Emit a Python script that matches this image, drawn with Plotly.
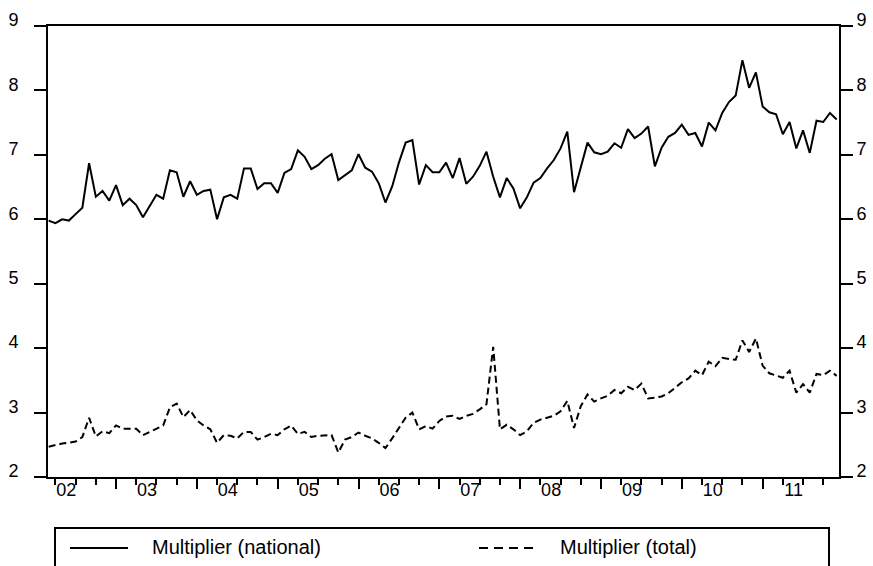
import plotly.graph_objects as go

# ---------------- data (monthly, first obs = index 0) ----------------
national = [
    5.98, 5.94, 6.00, 5.98, 6.08, 6.18, 6.87, 6.35, 6.44, 6.29,
    6.53, 6.22, 6.32, 6.22, 6.03, 6.20, 6.38, 6.32, 6.76, 6.73,
    6.35, 6.59, 6.38, 6.44, 6.46, 6.00, 6.34, 6.38, 6.32, 6.79,
    6.79, 6.47, 6.56, 6.56, 6.41, 6.72, 6.78, 7.07,
    6.97, 6.78, 6.84, 6.94, 7.01, 6.61, 6.68, 6.76, 7.01, 6.80,
    6.74, 6.56, 6.26, 6.51, 6.88, 7.19, 7.23, 6.54, 6.84, 6.73,
    6.73, 6.88, 6.64, 6.95, 6.55, 6.66, 6.83, 7.05, 6.66, 6.34,
    6.64, 6.48, 6.17, 6.34, 6.57, 6.64, 6.79, 6.92, 7.10, 7.36,
    6.42, 6.82, 7.19,
    7.04, 7.01, 7.05, 7.18, 7.11, 7.40, 7.26, 7.33, 7.44, 6.82,
    7.11, 7.28, 7.34, 7.47, 7.31, 7.34, 7.13, 7.50, 7.38, 7.65,
    7.82, 7.92, 8.47, 8.04, 8.28, 7.75, 7.66, 7.63, 7.32, 7.51,
    7.10, 7.38, 7.03, 7.53, 7.51, 7.65, 7.55,
]
total = [
    2.47, 2.50, 2.52, 2.53, 2.55, 2.62, 2.92, 2.63, 2.71, 2.68,
    2.80, 2.75, 2.75, 2.75, 2.65, 2.70, 2.76, 2.80, 3.08, 3.14,
    2.93, 3.04, 2.88, 2.80, 2.74, 2.53, 2.65, 2.64, 2.60, 2.70,
    2.70, 2.58, 2.62, 2.67, 2.65, 2.74, 2.80, 2.67,
    2.70, 2.62, 2.64, 2.64, 2.65, 2.38, 2.58, 2.62, 2.69, 2.64,
    2.60, 2.53, 2.45, 2.60, 2.76, 2.92, 3.00, 2.74, 2.79, 2.75,
    2.87, 2.94, 2.95, 2.90, 2.95, 2.98, 3.05, 3.13, 4.02, 2.74,
    2.81, 2.74, 2.65, 2.71, 2.84, 2.89, 2.92, 2.95, 3.02, 3.18,
    2.76, 3.10, 3.28,
    3.17, 3.22, 3.26, 3.35, 3.30, 3.40, 3.35, 3.45, 3.22, 3.23,
    3.25, 3.30, 3.38, 3.47, 3.53, 3.65, 3.58, 3.79, 3.72, 3.85,
    3.83, 3.82, 4.12, 3.94, 4.15, 3.73, 3.61, 3.58, 3.54, 3.65,
    3.31, 3.44, 3.31, 3.60, 3.58, 3.65, 3.57,
]
year_labels = ["02", "03", "04", "05", "06", "07", "08", "09", "10", "11"]
series_names = ["Multiplier (national)", "Multiplier (total)"]
y_ticks = [2, 3, 4, 5, 6, 7, 8, 9]

months = list(range(len(national)))

# axis geometry in month-index units
label_pos = [2.6 + 12 * k for k in range(len(year_labels))]
major_ticks = [10 + 12 * k for k in range(10) if 10 + 12 * k <= 117]
minor_ticks = [1 + 3 * k for k in range(40) if 1 + 3 * k <= 117]
x_range = [-0.1, 117.34]

W, H = 873, 566
L, R, T, B = 48, 34, 26, 89
PW, PH = W - L - R, H - T - B


def px(x):
    return (x - L) / PW


def py(y):
    return (T + PH - y) / PH


FONT = "Liberation Sans, Arial, sans-serif"

fig = go.Figure()
fig.add_trace(go.Scatter(x=months, y=national, mode="lines", name=series_names[0],
                         line=dict(color="black", width=2), showlegend=False))
fig.add_trace(go.Scatter(x=months, y=total, mode="lines", name=series_names[1],
                         line=dict(color="black", width=2, dash="7px,4px"),
                         xaxis="x2", yaxis="y2", showlegend=False))

axis_common = dict(showgrid=False, zeroline=False, linecolor="black", linewidth=2,
                   automargin=False)

fig.update_layout(
    width=W, height=H,
    margin=dict(l=L, r=R, t=T, b=B, pad=0, autoexpand=False),
    paper_bgcolor="white", plot_bgcolor="white",
    font=dict(family=FONT, color="black", size=18),
    xaxis=dict(range=x_range, showline=True, mirror=True, ticks="outside",
               tickmode="array", tickvals=major_ticks, ticklen=10, tickwidth=2,
               tickcolor="black", showticklabels=False,
               minor=dict(ticks="outside", tickmode="array", tickvals=minor_ticks,
                          ticklen=6, tickwidth=2, tickcolor="black"),
               **axis_common),
    xaxis2=dict(range=x_range, overlaying="x", anchor="y2", side="bottom",
                tickmode="array", tickvals=label_pos, ticktext=year_labels,
                ticks="", showline=False, showgrid=False, zeroline=False,
                automargin=False, tickfont=dict(size=18)),
    yaxis=dict(range=[2, 9], tickmode="array", tickvals=y_ticks, ticks="outside",
               ticklen=12, tickwidth=2, tickcolor="black", showline=True,
               ticklabelstandoff=12, ticklabelshift=-6, tickfont=dict(size=18),
               **axis_common),
    yaxis2=dict(range=[2, 9], overlaying="y", anchor="x2", side="right",
                tickmode="array", tickvals=y_ticks, ticks="outside",
                ticklen=12, tickwidth=2, tickcolor="black", showline=True,
                ticklabelshift=-6, tickfont=dict(size=18), **axis_common),
)

# legend box drawn below the plot
shapes = [
    dict(type="rect", xref="paper", yref="paper", x0=px(55), x1=px(829),
         y0=py(528), y1=py(620), line=dict(color="black", width=2),
         fillcolor="rgba(0,0,0,0)", layer="above"),
    dict(type="line", xref="paper", yref="paper", x0=px(70), x1=px(128),
         y0=py(548), y1=py(548), line=dict(color="black", width=2)),
    dict(type="line", xref="paper", yref="paper", x0=px(479), x1=px(537),
         y0=py(548), y1=py(548), line=dict(color="black", width=2, dash="9px,6px")),
]
fig.update_layout(shapes=shapes)
fig.add_annotation(x=px(150), y=py(547), xref="paper", yref="paper", text=series_names[0],
                   showarrow=False, xanchor="left", yanchor="middle",
                   font=dict(size=20, family=FONT, color="black"))
fig.add_annotation(x=px(558), y=py(547), xref="paper", yref="paper", text=series_names[1],
                   showarrow=False, xanchor="left", yanchor="middle",
                   font=dict(size=20, family=FONT, color="black"))

fig.write_html("out.html")
